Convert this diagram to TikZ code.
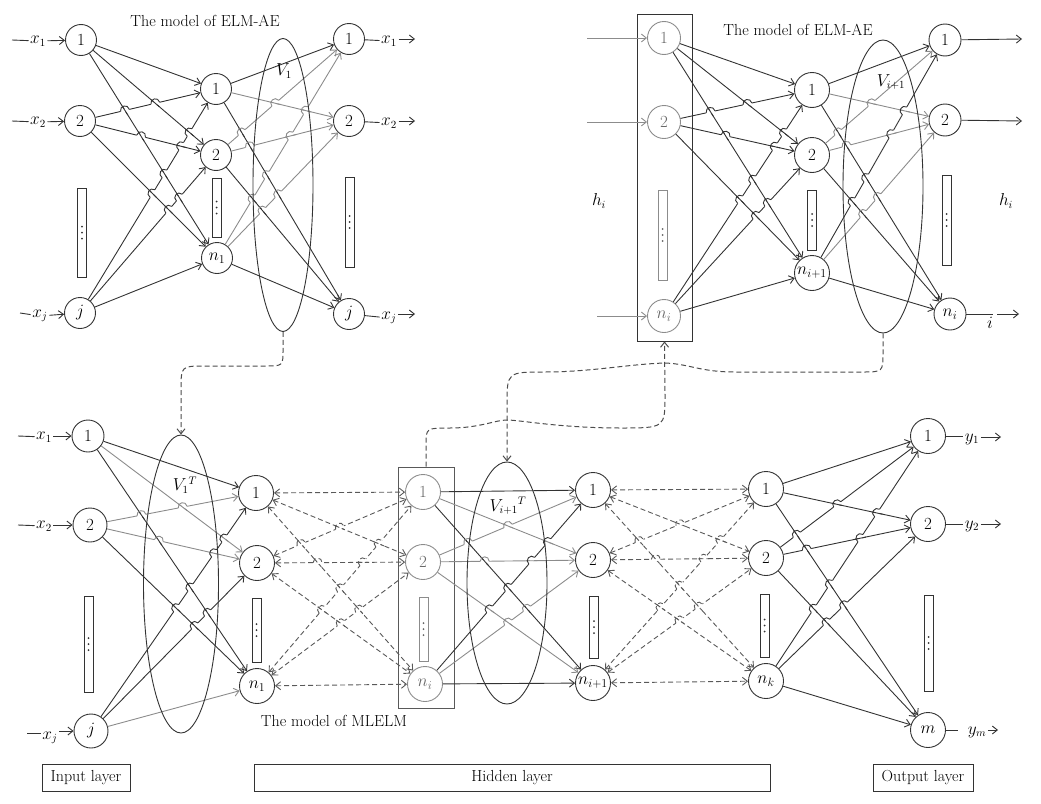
\documentclass[tikz,border=0pt]{standalone}
\usetikzlibrary{arrows.meta,shapes.geometric,calc}

% draw a list of connectors a/b/style and remember each one's style
\newcommand\drawedges[2]{%
  \foreach \a/\b/\c in {#2} {%
    \draw[#1,\c] (\a) -- (\b);
    \expandafter\xdef\csname ec@\a @\b\endcsname{\c}%
  }}
% line #3->#4 jumps over line #1->#2 with a small arc
\newcommand\hop[4]{%
  \edef\hs{\csname ec@#1@#2\endcsname}%
  \edef\hh{\csname ec@#3@#4\endcsname}%
  \coordinate (H) at (intersection cs:first line={(#1)--(#2)},second line={(#3)--(#4)});
  \coordinate (HA) at ($(H)!4.5pt!(#3)$);
  \coordinate (HB) at ($(H)!4.5pt!(#4)$);
  \draw[white,line width=3pt] (HA) -- (HB);
  \draw[line width=0.9pt,\hs] ($(H)!5.5pt!(#1)$) -- ($(H)!5.5pt!(#2)$);
  \draw[line width=0.9pt,\hh] (HA) .. controls ($(HA)!0.667!90:(HB)$) and ($(HB)!0.667!-90:(HA)$) .. (HB);
}
% all crossings of a fully connected 3x3 layer (sources #1-#3, targets #4-#6, top to bottom)
\newcommand\hopgroup[6]{%
  \foreach \sa/\sb in {#1/#2,#1/#3,#2/#3} {%
    \foreach \ta/\tb in {#4/#5,#4/#6,#5/#6} {%
      \edef\tmp{\noexpand\hop{\sa}{\tb}{\sb}{\ta}}\tmp
    }}}
% three dots inside a narrow box
\newcommand\dotcolumn[2][black!80]{%
  \foreach \k in {-6,0,6} \fill[#1] ($(#2.center)+(0,\k)$) circle (1pt);}

\begin{document}
\begin{tikzpicture}[x=1pt,y=-1pt,
  >={Straight Barb[length=5pt,width=8pt]},
  every node/.style={font=\fontsize{17}{20}\selectfont},
  neuron/.style={draw=black!80,line width=0.9pt,circle,minimum size=31pt,inner sep=0pt},
  bigneuron/.style={neuron,minimum size=35pt},
  faint/.style={draw=black!45,text=black!60},
  edge/.style={->,line width=0.9pt},
  dk/.style={draw=black!80},
  lt/.style={draw=black!45},
  dd/.style={draw=black!65,dashed,dash pattern=on 5pt off 3pt},
  dedge/.style={<->,line width=0.9pt},
  link/.style={dashed,dash pattern=on 5pt off 3pt,line width=1pt,draw=black!70},
  wire/.style={line width=0.9pt,draw=black!80},
  dotbox/.style={draw=black!80,line width=0.8pt,rectangle,minimum width=9pt,inner sep=0pt},
  ell/.style={draw=black!80,line width=0.9pt,ellipse,inner sep=0pt},
  frame/.style={draw=black!80,line width=0.9pt,rectangle,inner sep=0pt},
  txt/.style={font=\fontsize{16}{19}\selectfont,inner sep=1.5pt},
  lab/.style={font=\fontsize{16}{19}\selectfont,draw=black!80,line width=0.8pt,rectangle,minimum height=27pt,inner sep=0pt}
]
\useasboundingbox (0,0) rectangle (1041,803);

% ---------------- ELM-AE (first layer) ----------------
\node[txt] (titleA) at (205,21) {The model of ELM-AE};
\node[neuron] (ia1) at (81,40) {1};
\node[neuron] (ia2) at (80,121) {2};
\node[neuron] (iaj) at (80,313) {$j$};
\node[neuron] (ha1) at (216,89) {1};
\node[neuron] (ha2) at (216,155) {2};
\node[neuron] (han) at (217,258) {$n_1$};
\node[neuron] (oa1) at (349,39) {1};
\node[neuron] (oa2) at (349,121) {2};
\node[neuron] (oaj) at (349,314) {$j$};
\node[dotbox,minimum height=89pt] (da1) at (82,232.5) {};
\node[dotbox,minimum height=59pt] (da2) at (216.5,207.5) {};
\node[dotbox,minimum height=90pt] (da3) at (349.5,222) {};
\dotcolumn{da1}\dotcolumn{da2}\dotcolumn{da3}

\drawedges{edge}{ia1/ha1/dk,ia1/ha2/dk,ia1/han/dk,ia2/ha1/dk,ia2/ha2/dk,ia2/han/dk,iaj/ha1/dk,iaj/ha2/dk,iaj/han/dk,
  ha1/oa1/dk,ha1/oa2/lt,ha1/oaj/dk,ha2/oa1/lt,ha2/oa2/lt,ha2/oaj/dk,han/oa1/lt,han/oa2/lt,han/oaj/dk}
\hopgroup{ia1}{ia2}{iaj}{ha1}{ha2}{han}
\hopgroup{ha1}{ha2}{han}{oa1}{oa2}{oaj}
\node[ell,minimum width=60pt,minimum height=293pt] (EA) at (283,185) {};
\node[txt] (VA) at (284,71) {$V_1$};

% inputs and outputs
\coordinate (sa1) at (12,40);
\coordinate (sa2) at (12,121);
\coordinate (saj) at (20,313);
\node[txt] (xa1) at (38,41) {$x_1$};
\node[txt] (xa2) at (38,122) {$x_2$};
\node[txt] (xaj) at (40,316) {$x_j$};
\draw[wire] (sa1) -- (xa1);
\draw[wire] (sa2) -- (xa2);
\draw[wire] (saj) -- (xaj);
\draw[edge,dk] (xa1) -- (ia1);
\draw[edge,dk] (xa2) -- (ia2);
\draw[edge,dk] (xaj) -- (iaj);
\node[txt] (ya1) at (389,41) {$x_1$};
\node[txt] (ya2) at (389,123) {$x_2$};
\node[txt] (yaj) at (389,318) {$x_j$};
\coordinate (ta1) at (415,39);
\coordinate (ta2) at (415,121);
\coordinate (taj) at (415,314);
\draw[wire] (oa1) -- (ya1);
\draw[wire] (oa2) -- (ya2);
\draw[wire] (oaj) -- (yaj);
\draw[edge,dk] (ya1.east |- ta1) -- (ta1);
\draw[edge,dk] (ya2.east |- ta2) -- (ta2);
\draw[edge,dk] (yaj.east |- taj) -- (taj);

% ---------------- ELM-AE (layer i+1) ----------------
\node[txt] (titleB) at (798,30) {The model of ELM-AE};
\node[frame,minimum width=55pt,minimum height=327pt] (BB) at (664.5,177.5) {};
\node[neuron,faint,minimum size=33pt] (ib1) at (664,38) {1};
\node[neuron,faint,minimum size=33pt] (ib2) at (664,122) {2};
\node[neuron,faint,minimum size=33pt] (ibn) at (664,316) {$n_i$};
\node[bigneuron] (hb1) at (812,90) {1};
\node[bigneuron] (hb2) at (812,155) {2};
\node[bigneuron] (hbn) at (812,273) {$n_{i+1}$};
\node[neuron,minimum size=32pt] (ob1) at (945,40) {1};
\node[neuron,minimum size=32pt] (ob2) at (945,120) {2};
\node[neuron,minimum size=32pt] (obn) at (950,314) {$n_i$};
\node[dotbox,draw=black!45,minimum height=90pt] (db1) at (662.5,235) {};
\node[dotbox,minimum height=60pt] (db2) at (812,220) {};
\node[dotbox,minimum height=90pt] (db3) at (946.5,220) {};
\dotcolumn[black!60]{db1}\dotcolumn{db2}\dotcolumn{db3}
\node[txt] (hl) at (599,201) {$h_i$};
\node[txt] (hr) at (1006,201) {$h_i$};

\drawedges{edge}{ib1/hb1/dk,ib1/hb2/dk,ib1/hbn/dk,ib2/hb1/dk,ib2/hb2/dk,ib2/hbn/dk,ibn/hb1/dk,ibn/hb2/dk,ibn/hbn/dk,
  hb1/ob1/dk,hb1/ob2/lt,hb1/obn/dk,hb2/ob1/lt,hb2/ob2/lt,hb2/obn/dk,hbn/ob1/dk,hbn/ob2/lt,hbn/obn/dk}
\hopgroup{ib1}{ib2}{ibn}{hb1}{hb2}{hbn}
\hopgroup{hb1}{hb2}{hbn}{ob1}{ob2}{obn}
\node[ell,minimum width=80pt,minimum height=293pt] (EB) at (883,186.5) {};
\node[txt] (VB) at (891,82) {$V_{i+1}$};

\coordinate (sb1) at (587,38);
\coordinate (sb2) at (587,122);
\coordinate (sbn) at (597,316);
\draw[edge,lt] (sb1) -- (ib1);
\draw[edge,lt] (sb2) -- (ib2);
\draw[edge,lt] (sbn) -- (ibn);
\coordinate (tb1) at (1022,39);
\coordinate (tb2) at (1022,121);
\coordinate (tbn) at (1019,314);
\coordinate (mbn) at (993,314);
\coordinate (rbn) at (997,314);
\node[txt] (ib) at (990,323) {$i$};
\draw[edge,dk] (ob1) -- (tb1);
\draw[edge,dk] (ob2) -- (tb2);
\draw[wire] (obn) -- (mbn);
\draw[edge,dk] (rbn) -- (tbn);

% ---------------- MLELM ----------------
\node[neuron,minimum size=32pt] (ic1) at (88,436) {1};
\node[neuron,minimum size=34pt] (ic2) at (90,525) {2};
\node[neuron,minimum size=34pt] (icj) at (91,731) {$j$};
\node[bigneuron] (hc1) at (256,493) {1};
\node[bigneuron] (hc2) at (257,563) {2};
\node[bigneuron] (hcn) at (257,686) {$n_1$};
\node[frame,draw=black!65,minimum width=56pt,minimum height=241pt] (BX) at (426,587.5) {};
\node[bigneuron,faint] (bi1) at (423,492) {1};
\node[bigneuron,faint] (bi2) at (423,562) {2};
\node[bigneuron,faint] (bin) at (425,684) {$n_i$};
\node[bigneuron] (hd1) at (593,490) {1};
\node[bigneuron] (hd2) at (593,560) {2};
\node[bigneuron] (hdn) at (593,683) {$n_{i+1}$};
\node[bigneuron] (he1) at (766,489) {1};
\node[bigneuron] (he2) at (766,558) {2};
\node[bigneuron] (hen) at (766,681) {$n_k$};
\node[bigneuron] (oc1) at (928,436) {1};
\node[bigneuron] (oc2) at (928,524) {2};
\node[bigneuron] (ocm) at (928,730) {$m$};

\node[dotbox,minimum height=96pt] (dc1) at (88.5,644) {};
\node[dotbox,minimum height=64pt] (dc2) at (256.5,630) {};
\node[dotbox,draw=black!45,minimum height=64pt] (dc3) at (423.5,629) {};
\node[dotbox,minimum height=62pt] (dc4) at (594,627) {};
\node[dotbox,minimum height=63pt] (dc5) at (764.5,625.5) {};
\node[dotbox,minimum height=96pt] (dc6) at (928.5,643) {};
\dotcolumn{dc1}\dotcolumn{dc2}\dotcolumn[black!60]{dc3}\dotcolumn{dc4}\dotcolumn{dc5}\dotcolumn{dc6}

\drawedges{edge}{ic1/hc1/dk,ic1/hc2/lt,ic1/hcn/dk,ic2/hc1/lt,ic2/hc2/lt,ic2/hcn/dk,icj/hc1/dk,icj/hc2/dk,icj/hcn/lt,
  bi1/hd1/dk,bi1/hd2/lt,bi1/hdn/dk,bi2/hd1/lt,bi2/hd2/lt,bi2/hdn/lt,bin/hd1/dk,bin/hd2/lt,bin/hdn/dk,
  he1/oc1/dk,he1/oc2/dk,he1/ocm/dk,he2/oc1/dk,he2/oc2/dk,he2/ocm/dk,hen/oc1/dk,hen/oc2/dk,hen/ocm/dk}
\drawedges{dedge}{hc1/bi1/dd,hc1/bi2/dd,hc1/bin/dd,hc2/bi1/dd,hc2/bi2/dd,hc2/bin/dd,hcn/bi1/dd,hcn/bi2/dd,hcn/bin/dd,
  hd1/he1/dd,hd1/he2/dd,hd1/hen/dd,hd2/he1/dd,hd2/he2/dd,hd2/hen/dd,hdn/he1/dd,hdn/he2/dd,hdn/hen/dd}
\hopgroup{ic1}{ic2}{icj}{hc1}{hc2}{hcn}
\hopgroup{hc1}{hc2}{hcn}{bi1}{bi2}{bin}
\hopgroup{bi1}{bi2}{bin}{hd1}{hd2}{hdn}
\hopgroup{hd1}{hd2}{hdn}{he1}{he2}{hen}
\hopgroup{he1}{he2}{hen}{oc1}{oc2}{ocm}
\node[ell,minimum width=75pt,minimum height=298pt] (EC) at (181,584) {};
\node[txt] (VC) at (185,485) {$V_1{}^{T}$};
\node[ell,minimum width=80pt,minimum height=242pt] (ED) at (507,583) {};
\node[txt] (VD) at (508,506) {$V_{i+1}{}^{T}$};

% inputs and outputs
\coordinate (sc1) at (18,436);
\coordinate (sc2) at (18,525);
\coordinate (scj) at (27,733);
\node[txt] (xc1) at (44,437) {$x_1$};
\node[txt] (xc2) at (44,526) {$x_2$};
\node[txt] (xcj) at (50,738) {$x_j$};
\draw[wire] (sc1) -- (xc1);
\draw[wire] (sc2) -- (xc2);
\draw[wire] (scj) -- (xcj.west |- scj);
\draw[edge,dk] (xc1.east |- ic1) -- (ic1);
\draw[edge,dk] (xc2.east |- ic2) -- (ic2);
\draw[edge,dk] (xcj.east |- icj) -- (icj);
\node[txt] (yc1) at (972,439) {$y_1$};
\node[txt] (yc2) at (972,526) {$y_2$};
\node[txt] (ycm) at (977,732) {$y_m$};
\coordinate (tc1) at (1001,437);
\coordinate (tc2) at (1001,524);
\coordinate (tcm) at (998,730);
\coordinate (mcm) at (958,730);
\draw[wire] (oc1) -- (yc1.west |- oc1);
\draw[wire] (oc2) -- (yc2.west |- oc2);
\draw[wire] (ocm) -- (mcm);
\draw[edge,dk] (yc1.east |- tc1) -- (tc1);
\draw[edge,dk] (yc2.east |- tc2) -- (tc2);
\draw[edge,dk] (ycm.east |- tcm) -- (tcm);

\node[txt] (titleC) at (334,721) {The model of MLELM};

% layer captions
\node[lab,minimum width=88pt] (inl) at (86,778) {Input layer};
\node[lab,minimum width=516pt] (hidl) at (512,778) {Hidden layer};
\node[lab,minimum width=100pt] (outl) at (923,778) {Output layer};

% weight sharing between the autoencoders and the stacked network
\draw[link,->] (EA.south) -- (283,350) .. controls (283,366) .. (265,366) -- (205,366)
  .. controls (181,366) .. (181,390) -- (EC.north);
\draw[link,->] (EB.south) -- (883,352) .. controls (883,372) .. (862,372) -- (735,372)
  .. controls (700,372) and (690,364) .. (665,363)
  .. controls (630,364) and (590,372) .. (545,372)
  .. controls (507,372) .. (507,405) -- (ED.north);
\draw[link,->] (BX.north) -- (426,445) .. controls (426,428) .. (450,428)
  .. controls (480,428) and (495,420) .. (507,420)
  .. controls (520,420) and (560,428) .. (620,428)
  .. controls (665,428) .. (665,395) -- (BB.south);
\end{tikzpicture}
\end{document}
